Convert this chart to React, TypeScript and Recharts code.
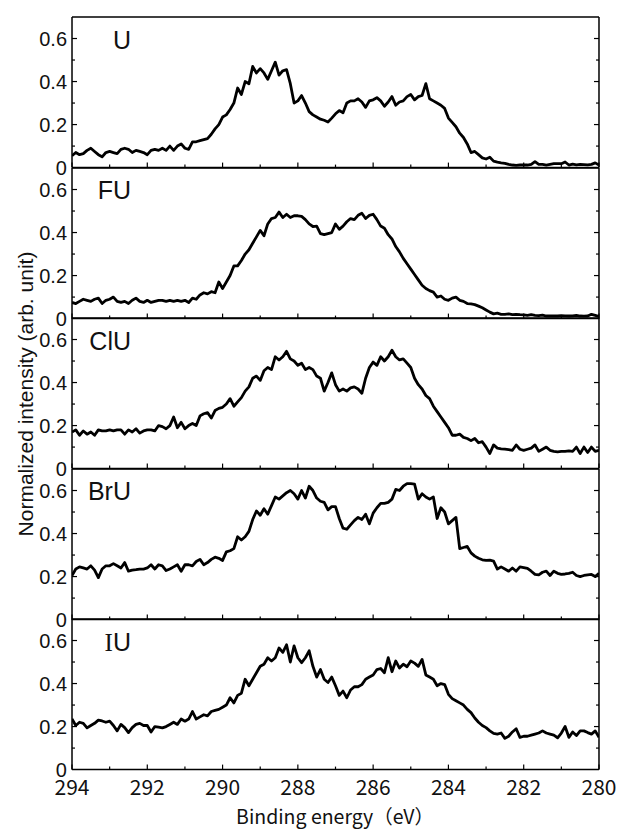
import { Line, LineChart, XAxis, YAxis } from "recharts";

// binding energy grid, 294 -> 280 eV in 0.1 eV steps
const energy = Array.from({ length: 141 }, (_, i) => Math.round((294 - i * 0.1) * 10) / 10);

const intensityU = [
  0.055, 0.07, 0.06, 0.065, 0.08, 0.09, 0.075, 0.06, 0.05, 0.07,
  0.075, 0.07, 0.065, 0.085, 0.09, 0.085, 0.07, 0.08, 0.075, 0.07,
  0.06, 0.08, 0.085, 0.08, 0.09, 0.08, 0.1, 0.08, 0.1, 0.11,
  0.09, 0.085, 0.12, 0.12, 0.125, 0.13, 0.135, 0.155, 0.18, 0.2,
  0.235, 0.245, 0.27, 0.3, 0.37, 0.34, 0.4, 0.39, 0.47, 0.44,
  0.46, 0.44, 0.41, 0.45, 0.49, 0.43, 0.45, 0.455, 0.39, 0.3,
  0.31, 0.335, 0.3, 0.26, 0.245, 0.235, 0.225, 0.22, 0.212, 0.23,
  0.25, 0.265, 0.255, 0.3, 0.31, 0.31, 0.32, 0.305, 0.28, 0.31,
  0.315, 0.325, 0.31, 0.285, 0.305, 0.33, 0.29, 0.305, 0.31, 0.33,
  0.34, 0.315, 0.33, 0.335, 0.39, 0.32, 0.31, 0.3, 0.29, 0.275,
  0.23, 0.21, 0.19, 0.16, 0.14, 0.11, 0.07, 0.075, 0.06, 0.045,
  0.04, 0.048, 0.03, 0.025, 0.022, 0.02, 0.015, 0.012, 0.01, 0.012,
  0.013, 0.012, 0.015, 0.028, 0.015, 0.015, 0.012, 0.015, 0.018, 0.018,
  0.018, 0.026, 0.012, 0.016, 0.013, 0.015, 0.014, 0.013, 0.015, 0.022,
  0.012,
];

const intensityFU = [
  0.075, 0.07, 0.08, 0.09, 0.085, 0.08, 0.09, 0.095, 0.07, 0.085,
  0.09, 0.1, 0.08, 0.075, 0.08, 0.07, 0.085, 0.095, 0.08, 0.075,
  0.085, 0.075, 0.08, 0.085, 0.085, 0.08, 0.085, 0.08, 0.085, 0.08,
  0.085, 0.075, 0.095, 0.09, 0.11, 0.12, 0.115, 0.125, 0.12, 0.17,
  0.14, 0.17, 0.2, 0.245, 0.245, 0.27, 0.3, 0.32, 0.35, 0.38,
  0.41, 0.385, 0.44, 0.465, 0.47, 0.495, 0.47, 0.485, 0.47, 0.478,
  0.478, 0.475, 0.46, 0.44, 0.428, 0.43, 0.395, 0.39, 0.395, 0.4,
  0.44, 0.415, 0.43, 0.45, 0.465, 0.46, 0.48, 0.49, 0.465, 0.48,
  0.485, 0.46, 0.43, 0.42, 0.39, 0.37, 0.335, 0.31, 0.28, 0.255,
  0.23, 0.205, 0.18, 0.155, 0.14, 0.13, 0.123, 0.1, 0.105, 0.09,
  0.085, 0.095, 0.1, 0.085, 0.08, 0.07, 0.068, 0.065, 0.058, 0.05,
  0.04, 0.03, 0.022, 0.025, 0.02, 0.02, 0.022, 0.018, 0.02, 0.018,
  0.017, 0.015, 0.018, 0.015, 0.014, 0.016, 0.012, 0.013, 0.012, 0.012,
  0.014, 0.013, 0.012, 0.013, 0.015, 0.012, 0.011, 0.012, 0.02, 0.015,
  0.01,
];

const intensityClU = [
  0.17, 0.18, 0.155, 0.175, 0.16, 0.17, 0.155, 0.18, 0.175, 0.175,
  0.18, 0.175, 0.18, 0.18, 0.16, 0.18, 0.17, 0.185, 0.165, 0.175,
  0.18, 0.18, 0.175, 0.2, 0.195, 0.185, 0.2, 0.24, 0.19, 0.215,
  0.185, 0.2, 0.21, 0.2, 0.245, 0.255, 0.26, 0.235, 0.27, 0.28,
  0.285, 0.3, 0.325, 0.29, 0.31, 0.33, 0.36, 0.38, 0.42, 0.43,
  0.41, 0.455, 0.47, 0.46, 0.52, 0.505, 0.52, 0.545, 0.51, 0.5,
  0.48, 0.49, 0.46, 0.47, 0.46, 0.43, 0.42, 0.36, 0.4, 0.445,
  0.39, 0.36, 0.37, 0.36, 0.375, 0.38, 0.37, 0.35, 0.42, 0.47,
  0.495, 0.48, 0.52, 0.5, 0.52, 0.55, 0.52, 0.505, 0.51, 0.49,
  0.47, 0.42, 0.39, 0.37, 0.34, 0.325, 0.29, 0.265, 0.24, 0.215,
  0.19, 0.155, 0.155, 0.16, 0.145, 0.14, 0.13, 0.14, 0.12, 0.125,
  0.1, 0.07, 0.11, 0.095, 0.092, 0.09, 0.088, 0.085, 0.11, 0.09,
  0.085, 0.09, 0.095, 0.11, 0.08, 0.09, 0.1, 0.085, 0.08, 0.078,
  0.08, 0.08, 0.082, 0.08, 0.1, 0.07, 0.1, 0.075, 0.1, 0.08,
  0.085,
];

const intensityBrU = [
  0.205, 0.235, 0.245, 0.24, 0.235, 0.25, 0.23, 0.195, 0.235, 0.25,
  0.25, 0.26, 0.25, 0.24, 0.265, 0.225, 0.23, 0.232, 0.235, 0.235,
  0.24, 0.255, 0.235, 0.255, 0.25, 0.228, 0.235, 0.245, 0.255, 0.225,
  0.255, 0.255, 0.25, 0.27, 0.28, 0.255, 0.265, 0.28, 0.29, 0.285,
  0.275, 0.315, 0.32, 0.33, 0.385, 0.37, 0.385, 0.41, 0.465, 0.505,
  0.485, 0.515, 0.49, 0.53, 0.57, 0.56, 0.575, 0.59, 0.6, 0.585,
  0.56, 0.6, 0.565, 0.62, 0.6, 0.565, 0.55, 0.545, 0.51, 0.525,
  0.525, 0.47, 0.425, 0.42, 0.44, 0.46, 0.475, 0.465, 0.49, 0.445,
  0.495, 0.52, 0.54, 0.54, 0.545, 0.56, 0.605, 0.6, 0.62, 0.632,
  0.632, 0.63, 0.56, 0.585, 0.57, 0.56, 0.57, 0.47, 0.52, 0.5,
  0.445, 0.46, 0.475, 0.33, 0.335, 0.34, 0.31, 0.295, 0.285, 0.278,
  0.275, 0.276, 0.272, 0.235, 0.245, 0.235, 0.225, 0.24, 0.225, 0.245,
  0.242, 0.238, 0.225, 0.21, 0.208, 0.22, 0.225, 0.205, 0.225, 0.215,
  0.21, 0.212, 0.215, 0.22, 0.205, 0.2, 0.205, 0.208, 0.21, 0.2,
  0.215,
];

const intensityIU = [
  0.236, 0.205, 0.22, 0.215, 0.194, 0.205, 0.215, 0.23, 0.226, 0.22,
  0.225, 0.205, 0.18, 0.21, 0.195, 0.172, 0.195, 0.21, 0.215, 0.205,
  0.205, 0.175, 0.2, 0.197, 0.194, 0.2, 0.21, 0.22, 0.21, 0.235,
  0.225, 0.235, 0.27, 0.235, 0.245, 0.255, 0.25, 0.27, 0.275, 0.28,
  0.29, 0.3, 0.334, 0.31, 0.345, 0.355, 0.42, 0.39, 0.42, 0.45,
  0.48, 0.49, 0.52, 0.505, 0.52, 0.565, 0.545, 0.58, 0.5, 0.575,
  0.52, 0.497, 0.52, 0.552, 0.48, 0.43, 0.465, 0.42, 0.405, 0.43,
  0.39, 0.345, 0.365, 0.334, 0.37, 0.385, 0.385, 0.395, 0.42, 0.43,
  0.44, 0.465, 0.47, 0.45, 0.52, 0.455, 0.505, 0.472, 0.49, 0.478,
  0.505, 0.495, 0.48, 0.512, 0.44, 0.43, 0.42, 0.39, 0.4, 0.395,
  0.35, 0.33, 0.32, 0.31, 0.3, 0.28, 0.265, 0.24, 0.22, 0.205,
  0.195, 0.18, 0.168, 0.165, 0.17, 0.145, 0.155, 0.175, 0.19, 0.15,
  0.155, 0.155, 0.16, 0.165, 0.17, 0.18, 0.17, 0.165, 0.16, 0.148,
  0.17, 0.2, 0.15, 0.175, 0.158, 0.18, 0.18, 0.172, 0.165, 0.18,
  0.15,
];

const sampleNames = ["U", "FU", "ClU", "BrU", "IU"];
const sampleSeries = [intensityU, intensityFU, intensityClU, intensityBrU, intensityIU];

const xTicks = [294, 293, 292, 291, 290, 289, 288, 287, 286, 285, 284, 283, 282, 281, 280];
const yTicks = [0, 0.1, 0.2, 0.3, 0.4, 0.5, 0.6];

const W = 617;
const PLOT_LEFT = 72;
const PLOT_RIGHT = 599;
const FIRST_TOP = 17;
const PANEL_H = 150.6;

const tickFont = "'Liberation Sans', Arial, sans-serif";
const jpFont = "'Noto Sans CJK JP', 'Liberation Sans', sans-serif";

function isMajorX(v: number) {
  return Math.round(v) % 2 === 0;
}
function isMajorY(v: number) {
  return Math.round(v * 10) % 2 === 0;
}

function BottomTick(props: any) {
  const { x, y, payload, showLabel } = props;
  const major = isMajorX(payload.value);
  const len = major ? 5 : 3;
  return (
    <g>
      <line x1={x} x2={x} y1={y} y2={y - len} stroke="#000" strokeWidth={1.2} />
      {showLabel && major && (
        <text x={x} y={y + 25.5} textAnchor="middle" fontSize={21} fontFamily={jpFont} fill="#111">
          {payload.value}
        </text>
      )}
    </g>
  );
}

function TopTick(props: any) {
  const { x, y, payload } = props;
  const len = isMajorX(payload.value) ? 5 : 3;
  return <line x1={x} x2={x} y1={y} y2={y + len} stroke="#000" strokeWidth={1.2} />;
}

function LeftTick(props: any) {
  const { x, y, payload } = props;
  const v = payload.value as number;
  const major = isMajorY(v);
  const len = major ? 5 : 3;
  return (
    <g>
      {v > 0 && <line x1={x} x2={x + len} y1={y} y2={y} stroke="#000" strokeWidth={1.2} />}
      {major && (
        <text x={x - 5} y={y + 7} textAnchor="end" fontSize={20} fontFamily={tickFont} fill="#111">
          {v === 0 ? "0" : v.toFixed(1)}
        </text>
      )}
    </g>
  );
}

function RightTick(props: any) {
  const { x, y, payload } = props;
  const v = payload.value as number;
  if (v === 0) return <g />;
  const len = isMajorY(v) ? 5 : 3;
  return <line x1={x} x2={x - len} y1={y} y2={y} stroke="#000" strokeWidth={1.2} />;
}

const axisLine = { stroke: "#000", strokeWidth: 1.5 };

function Panel({ index }: { index: number }) {
  const last = index === sampleSeries.length - 1;
  const top = FIRST_TOP + index * PANEL_H;
  const padTop = 14;
  const padBottom = last ? 40 : 14;
  const data = energy.map((e, i) => ({ e, v: sampleSeries[index][i] }));

  return (
    <div style={{ position: "absolute", left: 0, top: top - padTop }}>
      <LineChart
        width={W}
        height={PANEL_H + padTop + padBottom}
        data={data}
        margin={{ top: padTop - 1, right: W - PLOT_RIGHT - 1, bottom: padBottom - 1, left: PLOT_LEFT - 60 }}
      >
        <XAxis
          xAxisId="b"
          dataKey="e"
          type="number"
          domain={[280, 294]}
          reversed
          allowDataOverflow
          ticks={xTicks}
          interval={0}
          height={1}
          tickSize={0}
          tickMargin={0}
          tickLine={false}
          axisLine={axisLine}
          tick={(p: any) => <BottomTick {...p} showLabel={last} />}
        />
        <XAxis
          xAxisId="t"
          orientation="top"
          type="number"
          domain={[280, 294]}
          reversed
          allowDataOverflow
          ticks={xTicks}
          interval={0}
          height={1}
          tickSize={0}
          tickMargin={0}
          tickLine={false}
          axisLine={axisLine}
          tick={(p: any) => <TopTick {...p} />}
        />
        <YAxis
          yAxisId="l"
          type="number"
          domain={[0, 0.7]}
          allowDataOverflow
          ticks={yTicks}
          interval={0}
          width={60}
          tickSize={0}
          tickMargin={0}
          tickLine={false}
          axisLine={axisLine}
          tick={(p: any) => <LeftTick {...p} />}
        />
        <YAxis
          yAxisId="r"
          orientation="right"
          type="number"
          domain={[0, 0.7]}
          allowDataOverflow
          ticks={yTicks}
          interval={0}
          width={1}
          tickSize={0}
          tickMargin={0}
          tickLine={false}
          axisLine={axisLine}
          tick={(p: any) => <RightTick {...p} />}
        />
        <Line
          xAxisId="b"
          yAxisId="l"
          type="linear"
          dataKey="v"
          stroke="#000"
          strokeWidth={2.8}
          strokeLinejoin="round"
          dot={false}
          isAnimationActive={false}
        />
      </LineChart>
    </div>
  );
}

export default function App() {
  return (
    <div style={{ position: "absolute", left: 0, top: 0, width: W, height: 830, background: "#fff" }}>
      {sampleSeries.map((_, i) => (
        <Panel key={sampleNames[i]} index={i} />
      ))}
      <svg width={W} height={830} style={{ position: "absolute", left: 0, top: 0, pointerEvents: "none" }}>
        {sampleNames.map((name, i) => (
          <text
            key={name}
            x={131}
            y={FIRST_TOP + i * PANEL_H + 31.5}
            textAnchor="end"
            fontSize={25}
            fontFamily={tickFont}
            fill="#111"
          >
            {name === "IU" ? (
              <>
                <tspan fontFamily="'Liberation Serif', serif">I</tspan>U
              </>
            ) : (
              name
            )}
          </text>
        ))}
        <text
          x={25}
          y={394}
          transform="rotate(-90 25 394)"
          textAnchor="middle"
          dominantBaseline="central"
          fontSize={21}
          fontFamily={tickFont}
          fill="#111"
        >
          Normalized intensity (arb. unit)
        </text>
        <text x={335} y={824} textAnchor="middle" fontSize={19.5} fontFamily={jpFont} fill="#111">
          Binding energy（eV）
        </text>
      </svg>
    </div>
  );
}
